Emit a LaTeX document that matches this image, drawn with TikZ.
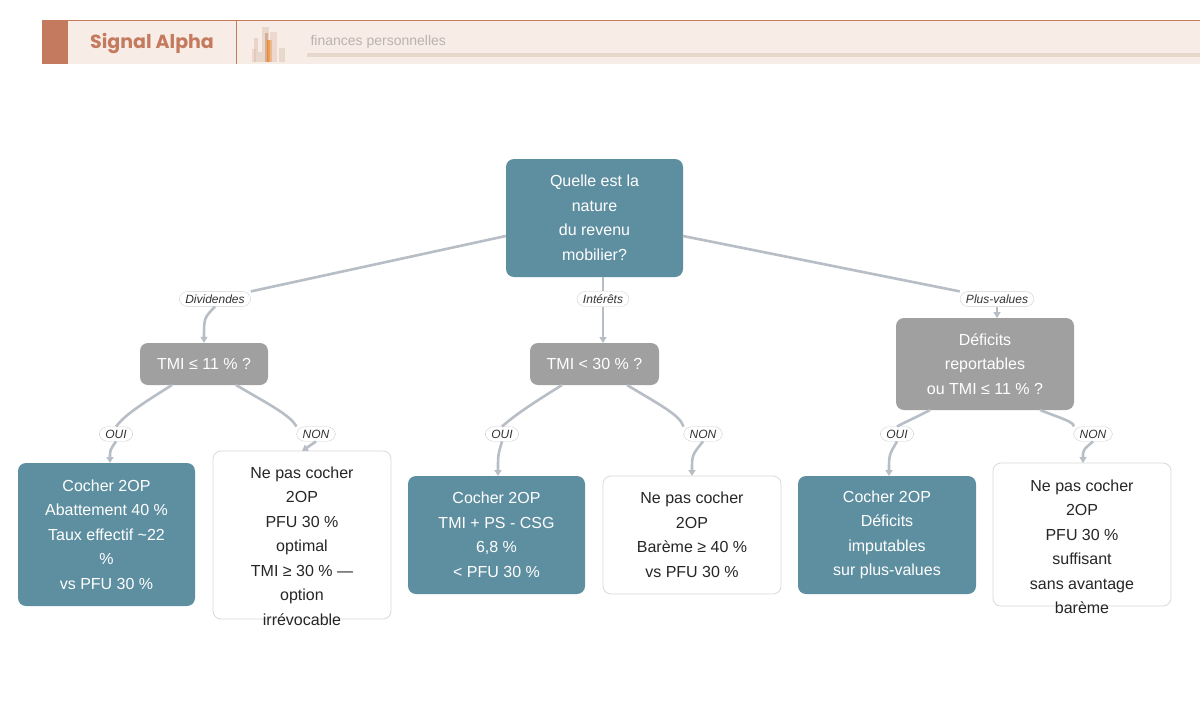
\documentclass[tikz,border=0pt]{standalone}
\usepackage{fontspec}
\setmainfont{Liberation Sans}
\newfontfamily\popf{Poppins}
\usetikzlibrary{arrows.meta}
\definecolor{teal}{HTML}{5E8FA0}
\definecolor{qgray}{HTML}{A0A0A0}
\definecolor{edge}{HTML}{B8BEC6}
\definecolor{band}{HTML}{F8ECE6}
\definecolor{rust}{HTML}{C47A5E}
\definecolor{bline}{HTML}{E8D8CC}
\begin{document}
\begin{tikzpicture}[x=1pt,y=-1pt,
  box/.style={rounded corners=8pt,align=center,inner sep=0pt,font=\fontsize{16}{24.5}\selectfont},
  tealb/.style={box,fill=teal,text=white},
  grayb/.style={box,fill=qgray,text=white},
  whiteb/.style={box,fill=white,draw=black!15,line width=0.8pt,text=black!85},
  lab/.style={rounded corners=8pt,draw=black!18,fill=white,font=\fontsize{12}{14}\selectfont\itshape,inner xsep=6pt,inner ysep=3pt,text=black!80},
  ed/.style={draw=edge,line width=2.6pt},
  ar/.style={draw=edge,line width=2.6pt,-{Triangle[length=6pt,width=7pt]}}]
\useasboundingbox (0,0) rectangle (1200,721);
\fill[white] (0,0) rectangle (1200,721);
% header
\fill[band] (42,20) rectangle (1200,64);
\draw[rust,line width=0.6pt] (42,20.3) -- (1200,20.3);
\fill[rust] (42,20) rectangle (68,64);
\draw[rust,line width=0.8pt] (236,20) -- (236,64);
\node[text=rust,font=\popf\fontsize{19}{20}\selectfont\bfseries] (title) at (152,43) {Signal Alpha};
\node[text=black!35!bline,anchor=west,font=\fontsize{14}{16}\selectfont,text=rust!30!black!35] (sub) at (307,42) {finances personnelles};
\fill[bline] (307,53) rectangle (1200,57);
\fill[rust!40,opacity=.6] (252,49) rectangle (256,62);
\fill[rust!50,opacity=.5] (254,38) rectangle (258,62);
\fill[bline] (262,27) rectangle (269,62);
\fill[rust!70,opacity=.8] (265,33) rectangle (268,62);
\fill[orange!70!brown,opacity=.7] (267,40) rectangle (272,62);
\fill[rust!40,opacity=.6] (270,32) rectangle (277,62);
\fill[bline] (279,48) rectangle (285,62);
\fill[bline] (256,52) rectangle (262,62);
% nodes
\node[tealb,minimum width=177pt,minimum height=118pt] (root) at (594.5,218) {Quelle est la\\nature\\du revenu\\mobilier?};
\node[grayb,minimum width=128pt,minimum height=42pt] (q1) at (204,364) {TMI ≤ 11 \% ?};
\node[grayb,minimum width=129pt,minimum height=42pt] (q2) at (594.5,364) {TMI < 30 \% ?};
\node[grayb,minimum width=178pt,minimum height=92pt] (q3) at (985,364) {Déficits\\reportables\\ou TMI ≤ 11 \% ?};
\node[tealb,minimum width=177pt,minimum height=143pt] (l1) at (106.5,534.5) {Cocher 2OP\\Abattement 40 \%\\Taux effectif \textasciitilde22\\\%\\vs PFU 30 \%};
\node[whiteb,minimum width=178pt,minimum height=168pt] (l2) at (302,535) {};
\node[align=center,font=\fontsize{16}{24.5}\selectfont,text=black!85] (l2t) at (302,546) {Ne pas cocher\\2OP\\PFU 30 \%\\optimal\\TMI ≥ 30 \% —\\option\\irrévocable};
\node[tealb,minimum width=177pt,minimum height=118pt] (l3) at (496.5,535) {Cocher 2OP\\TMI + PS - CSG\\6,8 \%\\< PFU 30 \%};
\node[whiteb,minimum width=178pt,minimum height=118pt] (l4) at (692,535) {Ne pas cocher\\2OP\\Barème ≥ 40 \%\\vs PFU 30 \%};
\node[tealb,minimum width=178pt,minimum height=118pt] (l5) at (887,535) {Cocher 2OP\\Déficits\\imputables\\sur plus-values};
\node[whiteb,minimum width=178pt,minimum height=143pt] (l6) at (1082,534.5) {};
\node[align=center,font=\fontsize{16}{24.5}\selectfont,text=black!85] (l6t) at (1082,547) {Ne pas cocher\\2OP\\PFU 30 \%\\suffisant\\sans avantage\\barème};
% labels
\node[lab] (d1) at (215,299) {Dividendes};
\node[lab] (d2) at (603,299) {Intérêts};
\node[lab] (d3) at (997,299) {Plus-values};
\node[lab] (o1) at (116,434) {OUI};
\node[lab] (n1) at (316,434) {NON};
\node[lab] (o2) at (502,434) {OUI};
\node[lab] (n2) at (703,434) {NON};
\node[lab] (o3) at (897,434) {OUI};
\node[lab] (n3) at (1093,434) {NON};
% edges
\begin{scope}[on background layer/.style={}]
\end{scope}
\draw[ed] (root.west|-0,236) -- (d1.north east);
\draw[ar] (d1.south) .. controls (204,318) .. (q1.north);
\draw[ed] (root.south-|603,277) -- (d2.north);
\draw[ar] (d2.south) -- (603,343);
\draw[ed] (683,236) -- (d3.north west);
\draw[ar] (d3.south) -- (997,318);
\draw[ed] (172,385) .. controls (140,405) and (125,415) .. (o1.north);
\draw[ar] (o1.south) .. controls (110,450) .. (110,463);
\draw[ed] (236,385) .. controls (270,405) and (290,415) .. (n1.north west);
\draw[ar] (n1.south) -- (302,451);
\draw[ed] (562,385) .. controls (530,405) and (515,415) .. (o2.north);
\draw[ar] (o2.south) .. controls (498,455) .. (498,476);
\draw[ed] (627,385) .. controls (660,405) and (680,415) .. (n2.north west);
\draw[ar] (n2.south) .. controls (692,455) .. (692,476);
\draw[ed] (930,410) .. controls (915,418) and (905,422) .. (o3.north);
\draw[ar] (o3.south) .. controls (889,455) .. (889,476);
\draw[ed] (1040,410) .. controls (1060,418) and (1075,422) .. (n3.north west);
\draw[ar] (n3.south) .. controls (1083,450) .. (1083,463);
\end{tikzpicture}
\end{document}
